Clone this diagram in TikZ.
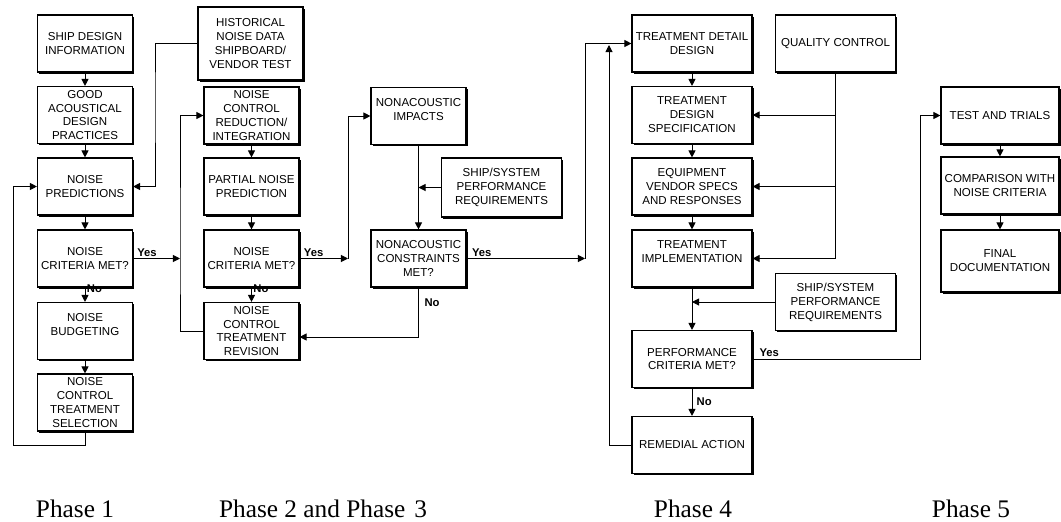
\documentclass[tikz,border=0pt]{standalone}
\usepackage{fontspec}
\setmainfont{Liberation Serif}
\setsansfont{Liberation Sans}
\usepackage{tikz}
\usetikzlibrary{arrows.meta,shadows}

\begin{document}
\begin{tikzpicture}[x=0.025cm, y=-0.025cm, line width=0.7pt, >={Triangle[length=5pt,width=5pt]}]
		\tikzstyle{block}=[draw, fill=white, line width=0.8pt, minimum width=2.375cm, minimum height=1.425cm,
			inner xsep=1pt, inner ysep=0pt, align=center, font=\sffamily\fontsize{8.2}{9.9}\selectfont,
			drop shadow={shadow xshift=1.4pt, shadow yshift=-1.4pt, fill=black, opacity=1}]
		\tikzstyle{wide}=[minimum width=3cm]
		\tikzstyle{answer}=[font=\sffamily\bfseries\fontsize{8}{9}\selectfont, inner sep=1pt]
		\tikzstyle{phase}=[font=\fontsize{18}{21}\selectfont, anchor=base]
		
		\useasboundingbox (0,0) rectangle (1061,521);
		
		% Phase 1
		\node[block] (sdi)  at (85,43.5)  {SHIP DESIGN\\INFORMATION};
		\node[block] (gadp) at (85,115)   {GOOD\\ACOUSTICAL\\DESIGN\\PRACTICES};
		\node[block] (np)   at (85,186.5) {NOISE\\PREDICTIONS};
		\node[block] (ncm1) at (85,258.5) {NOISE\\CRITERIA MET?};
		\node[block] (nb)   at (85,331)   {NOISE\\BUDGETING\\~};
		\node[block] (ncts) at (85,402.5) {NOISE\\CONTROL\\TREATMENT\\SELECTION};
		
		% Phase 2 and 3
		\node[block, minimum width=2.625cm, minimum height=1.825cm] (hist) at (250.5,43.5) {HISTORICAL\\NOISE DATA\\SHIPBOARD/\\VENDOR TEST};
		\node[block] (ncri) at (251.5,115.5) {NOISE\\CONTROL\\REDUCTION/\\INTEGRATION};
		\node[block] (pnp)  at (251.5,186.5) {PARTIAL NOISE\\PREDICTION};
		\node[block] (ncm2) at (251.5,258.5) {NOISE\\CRITERIA MET?};
		\node[block] (nctr) at (251.5,331)   {NOISE\\CONTROL\\TREATMENT\\REVISION};
		\node[block] (nai)  at (418.5,116)   {NONACOUSTIC\\IMPACTS\\~};
		\node[block, wide, minimum height=1.475cm] (ssp1) at (501.5,187.5) {SHIP/SYSTEM\\PERFORMANCE\\REQUIREMENTS};
		\node[block] (ncm3) at (418.5,258.5) {NONACOUSTIC\\CONSTRAINTS\\MET?};
		
		% Phase 4
		\node[block, wide] (tdd)  at (692,43.5)   {TREATMENT DETAIL\\DESIGN};
		\node[block, wide] (qc)   at (835.5,43.5) {QUALITY CONTROL};
		\node[block, wide] (tds)  at (692,115)    {TREATMENT\\DESIGN\\SPECIFICATION};
		\node[block, wide] (evs)  at (692,186.5)  {EQUIPMENT\\VENDOR SPECS\\AND RESPONSES};
		\node[block, wide] (ti)   at (692,258.5)  {TREATMENT\\IMPLEMENTATION\\~};
		\node[block, wide] (ssp2) at (835.5,302)  {SHIP/SYSTEM\\PERFORMANCE\\REQUIREMENTS};
		\node[block, wide] (pcm)  at (692,359)    {PERFORMANCE\\CRITERIA MET?};
		\node[block, wide] (ra)   at (692,445)    {REMEDIAL ACTION};
		
		% Phase 5
		\node[block, minimum width=2.95cm] (tt)   at (1000,115.5) {TEST AND TRIALS};
		\node[block, minimum width=2.95cm] (cwnc) at (1000,185.5) {COMPARISON WITH\\NOISE CRITERIA};
		\node[block, minimum width=2.95cm, minimum height=1.55cm] (fd) at (1000,261) {FINAL\\DOCUMENTATION};
		
		\node[phase] (ph1)  at (75,517)  {Phase 1};
		\node[phase] (ph23) at (323,517) {Phase 2 and Phase\hspace{0.35em}3};
		\node[phase] (ph4)  at (693,517) {Phase 4};
		\node[phase] (ph5)  at (971,517) {Phase 5};
		
		\coordinate (l1) at (13,445);
		\coordinate (h1) at (155,100);
		\coordinate (j1) at (180,258.5);
		\coordinate (j2) at (348,258.5);
		\coordinate (n3) at (418.5,337);
		\coordinate (j3) at (585,258.5);
		\coordinate (r1) at (609,45);
		\coordinate (y5) at (920,359);
		
		\path[->]
		(sdi)  edge (gadp)
		(gadp) edge (np)
		(np)   edge (ncm1)
		(ncm1) edge node [answer, pos=0.1, right] {No} (nb)
		(nb)   edge (ncts)
		(ncri) edge (pnp)
		(pnp)  edge (ncm2)
		(ncm2) edge node [answer, pos=0.1, right] {No} (nctr)
		(nai)  edge (ncm3)
		(tdd)  edge (tds)
		(tds)  edge (evs)
		(evs)  edge (ti)
		(ti)   edge (pcm)
		(pcm)  edge node [answer, right=2pt] {No} (ra)
		(tt)   edge (cwnc)
		(cwnc) edge (fd)
		;
		
		% loops and feeds
		\draw[->] (ncts.south) |- (l1) |- (np.west);
		\draw[->] (hist.west) -| (h1) |- (np.east);
		\draw[->] (ncm1.east) -- node [answer, pos=0.05, above right] {Yes} (j1);
		\draw[->] (nctr.west) -| (j1) |- (ncri.west);
		\draw[->] (ncm2.east) -- node [answer, pos=0.05, above right] {Yes} (j2);
		\draw[->] (j2) |- (nai.west);
		\draw[->] (ssp1.west) -- (nai.south |- ssp1.west);
		\draw[->] (ncm3.south) -- node [answer, pos=0.3, right=3pt] {No} (n3) -- (nctr.east |- n3);
		\draw[->] (ncm3.east) -- node [answer, pos=0.03, above right] {Yes} (j3);
		\draw[->] (j3) |- (tdd.west);
		\draw[->] (ra.west) -| (r1);
		\draw (qc.south) -- (qc.south |- ti.east);
		\draw[->] (qc.south |- tds.east) -- (tds.east);
		\draw[->] (qc.south |- evs.east) -- (evs.east);
		\draw[->] (qc.south |- ti.east) -- (ti.east);
		\draw[->] (ssp2.west) -- (ti.south |- ssp2.west);
		\draw[->] (pcm.east) -- node [answer, pos=0.03, above right] {Yes} (y5) |- (tt.west);
\end{tikzpicture}
\end{document}
